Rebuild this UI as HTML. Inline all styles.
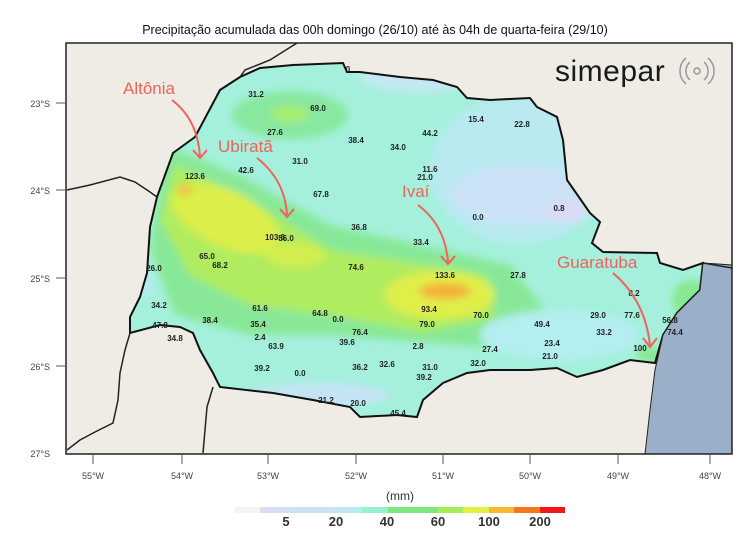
<!DOCTYPE html>
<html><head><meta charset="utf-8"><style>
body{margin:0;background:#fff;width:750px;height:551px;overflow:hidden;font-family:"Liberation Sans",sans-serif}
</style></head><body>
<svg width="750" height="551" viewBox="0 0 750 551" xmlns="http://www.w3.org/2000/svg" font-family="Liberation Sans, sans-serif">
<defs>
<clipPath id="st"><path id="stp" d="M195,137 L220,90 L240,77 L260,68 L293,65 L343,63 L347,72 L360,72 L400,77 L433,80 L457,87 L467,98 L490,100 L530,98 L537,107 L557,117 L563,140 L567,180 L590,213 L600,222 L592,243 L603,252 L657,253 L660,263 L683,270 L703,263 L700,290 L677,313 L663,335 L655,363 L630,360 L603,370 L577,377 L557,368 L530,370 L490,370 L467,373 L443,383 L423,400 L417,417 L397,415 L360,417 L350,407 L313,400 L273,393 L220,387 L213,373 L200,350 L193,333 L180,327 L160,325 L130,333 L130,317 L140,297 L147,273 L150,227 L157,197 L173,153 Z"/></clipPath>
<filter id="bl" x="-20%" y="-20%" width="140%" height="140%"><feGaussianBlur stdDeviation="4"/></filter>
</defs>
<rect x="66" y="43" width="666" height="411" fill="#eeece4"/>
<g clip-path="url(#st)">
<rect x="120" y="55" width="600" height="370" fill="#a4f0dc"/>
<g filter="url(#bl)">
<ellipse cx="520" cy="170" rx="90" ry="75" fill="#b8eaf0"/>
<ellipse cx="520" cy="195" rx="70" ry="30" fill="#cbe2f6"/>
<ellipse cx="565" cy="212" rx="22" ry="10" fill="#dcdaf5"/>
<ellipse cx="420" cy="75" rx="60" ry="18" fill="#c4e8f2"/>
<ellipse cx="290" cy="115" rx="58" ry="24" fill="#88e8a0"/>
<ellipse cx="290" cy="114" rx="20" ry="8" fill="#a8ee70"/>
<path d="M165,145 L240,175 L330,225 L420,245 L510,265 L545,310 L500,348 L420,342 L330,335 L250,335 L175,315 L150,250 Z" fill="#88e898"/>
<path d="M175,165 L250,200 L330,250 L410,262 L485,275 L495,318 L420,332 L330,315 L250,305 L190,275 L160,220 Z" fill="#b0ec5e"/>
<ellipse cx="225" cy="218" rx="58" ry="28" fill="#dcee48" transform="rotate(25 225 218)"/>
<ellipse cx="440" cy="295" rx="55" ry="24" fill="#e0ee48"/>
<ellipse cx="295" cy="255" rx="30" ry="12" fill="#d2ee50"/>
<ellipse cx="445" cy="291" rx="26" ry="8" fill="#f4b03a"/>
<ellipse cx="185" cy="190" rx="8" ry="4" fill="#f0b840"/>
<ellipse cx="560" cy="335" rx="80" ry="25" fill="#b4eef0"/>
<ellipse cx="320" cy="395" rx="70" ry="12" fill="#c4e4f4"/>
<ellipse cx="690" cy="300" rx="18" ry="20" fill="#88e890"/>
<ellipse cx="650" cy="355" rx="14" ry="8" fill="#88e890"/>
<ellipse cx="145" cy="285" rx="8" ry="12" fill="#b8eaf2"/>
</g>
</g>
<use href="#stp" fill="none" stroke="#111" stroke-width="2"/>
<path d="M703,263 L732,265 L732,454 L645,454 L650,410 L655,370 L663,335 L677,313 L700,290 Z" fill="#9bb0c8" stroke="#222" stroke-width="1"/>
<g fill="none" stroke="#222" stroke-width="1.5">
<path d="M297,43 L270,60 L245,70 L240,77"/>
<path d="M67,190 L90,185 L120,177 L135,182 L150,192 L157,197"/>
<path d="M130,333 L125,350 L120,373 L118,400 L113,423 L95,432 L80,440 L67,450"/>
<path d="M213,387 L207,407 L205,430 L203,453"/>
<path d="M703,263 L732,268"/>
</g>
<rect x="66" y="43" width="666" height="411" fill="none" stroke="#222" stroke-width="1.5"/>
<text x="375" y="34" text-anchor="middle" font-size="12.5" fill="#111">Precipitação acumulada das 00h domingo (26/10) até às 04h de quarta-feira  (29/10)</text>
<g font-size="9" fill="#444" text-anchor="end">
<text x="50" y="107">23°S</text><text x="50" y="194">24°S</text><text x="50" y="282">25°S</text><text x="50" y="370">26°S</text><text x="50" y="457">27°S</text>
</g>
<g stroke="#555"><path d="M56,103H66M56,190H66M56,278H66M56,366H66M93,454V464M182,454V464M268,454V464M356,454V464M443,454V464M530,454V464M618,454V464M710,454V464"/></g>
<g font-size="9" fill="#444" text-anchor="middle">
<text x="93" y="479">55°W</text><text x="182" y="479">54°W</text><text x="268" y="479">53°W</text><text x="356" y="479">52°W</text><text x="443" y="479">51°W</text><text x="530" y="479">50°W</text><text x="618" y="479">49°W</text><text x="710" y="479">48°W</text>
</g>
<text x="400" y="500" text-anchor="middle" font-size="12" fill="#333">(mm)</text>
<g>
<rect x="235" y="507" width="25" height="6" fill="#f4f4f6"/>
<rect x="260" y="507" width="25" height="6" fill="#dcdcf4"/>
<rect x="285" y="507" width="65" height="6" fill="#c8e4f4"/>
<rect x="350" y="507" width="12" height="6" fill="#b0eef0"/>
<rect x="362" y="507" width="26" height="6" fill="#96f0d0"/>
<rect x="388" y="507" width="50" height="6" fill="#7ee880"/>
<rect x="438" y="507" width="25" height="6" fill="#a8ec58"/>
<rect x="463" y="507" width="26" height="6" fill="#e4f040"/>
<rect x="489" y="507" width="25" height="6" fill="#f8b830"/>
<rect x="514" y="507" width="26" height="6" fill="#f47820"/>
<rect x="540" y="507" width="25" height="6" fill="#f01818"/>
</g>
<g font-size="13" font-weight="bold" fill="#333" text-anchor="middle">
<text x="286" y="526">5</text><text x="336" y="526">20</text><text x="387" y="526">40</text><text x="438" y="526">60</text><text x="489" y="526">100</text><text x="540" y="526">200</text>
</g>
<text x="555" y="81" font-size="30" fill="#1a1a1a" letter-spacing="0.5">simepar</text>
<g fill="none" stroke="#999" stroke-width="1.5"><circle cx="697" cy="71" r="3"/><path d="M690,62 A12,12 0 0 0 690,80 M704,62 A12,12 0 0 1 704,80 M686,58 A17,17 0 0 0 686,84 M708,58 A17,17 0 0 1 708,84"/></g>
<g font-size="8" font-weight="bold" fill="#222" text-anchor="middle">
<text x="256" y="97">31.2</text><text x="318" y="111">69.0</text><text x="348" y="72">0</text><text x="275" y="135">27.6</text><text x="356" y="143">38.4</text><text x="398" y="150">34.0</text><text x="430" y="136">44.2</text><text x="476" y="122">15.4</text><text x="522" y="127">22.8</text><text x="300" y="164">31.0</text><text x="246" y="173">42.6</text><text x="430" y="172">11.6</text><text x="425" y="180">21.0</text><text x="195" y="179">123.6</text><text x="321" y="197">67.8</text><text x="359" y="230">36.8</text><text x="478" y="220">0.0</text><text x="559" y="211">0.8</text><text x="275" y="240">103.6</text><text x="286" y="241">56.0</text><text x="421" y="245">33.4</text><text x="207" y="259">65.0</text><text x="220" y="268">68.2</text><text x="356" y="270">74.6</text><text x="154" y="271">26.0</text><text x="445" y="278">133.6</text><text x="518" y="278">27.8</text><text x="159" y="308">34.2</text><text x="260" y="311">61.6</text><text x="320" y="316">64.8</text><text x="338" y="322">0.0</text><text x="429" y="312">93.4</text><text x="481" y="318">70.0</text><text x="427" y="327">79.0</text><text x="542" y="327">49.4</text><text x="598" y="318">29.0</text><text x="604" y="335">33.2</text><text x="360" y="335">76.4</text><text x="160" y="328">47.8</text><text x="210" y="323">38.4</text><text x="258" y="327">35.4</text><text x="175" y="341">34.8</text><text x="260" y="340">2.4</text><text x="276" y="349">63.9</text><text x="347" y="345">39.6</text><text x="418" y="349">2.8</text><text x="552" y="346">23.4</text><text x="490" y="352">27.4</text><text x="550" y="359">21.0</text><text x="262" y="371">39.2</text><text x="300" y="376">0.0</text><text x="360" y="370">36.2</text><text x="387" y="367">32.6</text><text x="430" y="370">31.0</text><text x="478" y="366">32.0</text><text x="424" y="380">39.2</text><text x="326" y="403">21.2</text><text x="358" y="406">20.0</text><text x="398" y="416">45.4</text><text x="670" y="323">56.8</text><text x="675" y="335">74.4</text><text x="640" y="351">100</text><text x="634" y="296">8.2</text><text x="632" y="318">77.6</text>
</g>
<g fill="#f0625c" font-size="17">
<text x="123" y="94">Altônia</text><text x="218" y="152">Ubiratã</text><text x="402" y="197">Ivaí</text><text x="557" y="268">Guaratuba</text>
</g>
<g fill="none" stroke="#f0625c" stroke-width="2">
<path d="M172,100 Q198,120 200,157 M193,150 L200,158 L207,150"/>
<path d="M257,158 Q285,180 287,215 M280,209 L287,217 L294,209"/>
<path d="M418,205 Q445,225 448,262 M441,256 L448,264 L455,256"/>
<path d="M613,273 Q645,300 650,345 M643,338 L650,347 L657,338"/>
</g>
</svg>
</body></html>
